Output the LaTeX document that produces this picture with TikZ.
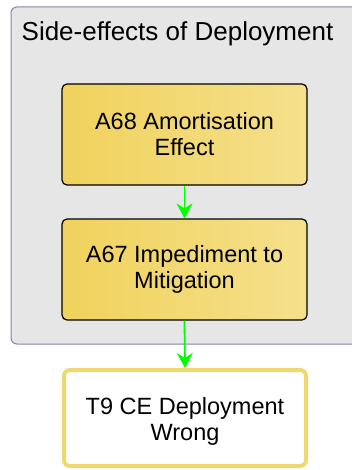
\documentclass[tikz,border=0pt]{standalone}
\usepackage{fontspec}
\setmainfont{Liberation Sans}
\usetikzlibrary{arrows.meta}
\definecolor{grpfill}{HTML}{E6E6E6}
\definecolor{grpline}{HTML}{8484A8}
\definecolor{goldL}{HTML}{F0D25C}
\definecolor{goldR}{HTML}{F5E08C}
\definecolor{goldline}{HTML}{F0D870}
\definecolor{arrowgreen}{HTML}{00FF00}
\tikzset{
  grpbox/.style={draw=grpline, line width=1pt, fill=grpfill, rounded corners=6pt, inner sep=0pt},
  actbox/.style={draw=black, line width=1.2pt, rounded corners=5pt, left color=goldL, right color=goldR,
     minimum width=245pt, align=center, font=\fontsize{23.5}{26}\selectfont, inner sep=0pt},
  tgtbox/.style={draw=goldline, line width=4pt, fill=white, rounded corners=6pt,
     minimum width=242pt, align=center, font=\fontsize{23.5}{26}\selectfont, inner sep=0pt},
  flow/.style={draw=arrowgreen, line width=1.8pt, -{Stealth[length=15pt,width=16pt,inset=5pt]}}
}
\begin{document}
\begin{tikzpicture}[x=1pt,y=-1pt]
\useasboundingbox (0,0) rectangle (352,470);
\clip (0,0) rectangle (352,470);
\node[grpbox, minimum width=351pt, minimum height=337pt] (grp) at (186.5,175.5) {};
\node[anchor=base, font=\fontsize{26}{30}\selectfont] (title) at (177.5,41) {Side-effects of Deployment};
\node[actbox, minimum height=101pt] (a68) at (184.5,134.5) {A68 Amortisation\\Effect};
\node[actbox, minimum height=101pt] (a67) at (184.5,269.5) {A67 Impediment to\\Mitigation};
\node[tgtbox, minimum height=96pt] (t9) at (185,418) {};
\node[align=center, font=\fontsize{23.5}{26}\selectfont, inner sep=0pt] (t9text) at (185,421) {T9 CE Deployment\\Wrong};
\draw[flow] (a68.south) -- (a67.north);
\draw[flow] (a67.south) -- (t9.north);
\end{tikzpicture}
\end{document}
